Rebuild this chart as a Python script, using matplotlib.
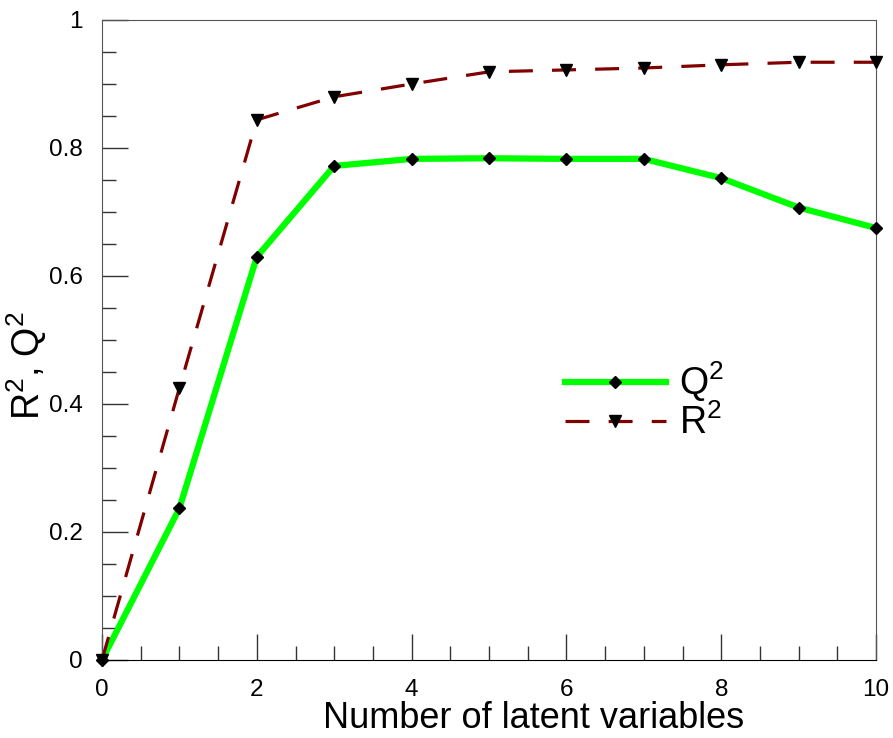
import matplotlib.pyplot as plt
import numpy as np
from matplotlib.ticker import MultipleLocator

plt.rcParams['font.family'] = ['Liberation Sans', 'DejaVu Sans']
plt.rcParams['mathtext.default'] = 'regular'

n_lv = [0, 1, 2, 3, 4, 5, 6, 7, 8, 9, 10]
q2 = [0.0, 0.237, 0.630, 0.772, 0.783, 0.784, 0.783, 0.783, 0.753, 0.707, 0.675]
r2 = [0.0, 0.425, 0.844, 0.880, 0.900, 0.919, 0.922, 0.925, 0.930, 0.934, 0.934]

fig = plt.figure(figsize=(8.93, 7.38), dpi=100)
ax = fig.add_axes([102/893, 78/738, 774/893, 640/738])

ax.plot(n_lv, q2, color='#00ff00', lw=4.5, marker='D', ms=6.5,
        mfc='black', mec='black', label='Q$^2$', clip_on=False, zorder=3)
ax.plot(n_lv, r2, color='#800000', lw=2.3, ls=(0, (7.5, 6)), marker='v', ms=9,
        mfc='black', mec='black', label='R$^2$', clip_on=False, zorder=3)

ax.set_xlim(0, 10)
ax.set_ylim(0, 1)
ax.xaxis.set_major_locator(MultipleLocator(2))
ax.xaxis.set_minor_locator(MultipleLocator(0.5))
ax.yaxis.set_major_locator(MultipleLocator(0.2))
ax.yaxis.set_minor_locator(MultipleLocator(0.05))
ax.xaxis.set_major_formatter(plt.FuncFormatter(lambda v, p: f'{v:g}'))
ax.yaxis.set_major_formatter(plt.FuncFormatter(lambda v, p: f'{v:g}'))

ax.tick_params(which='both', direction='in', labelsize=17.5, color='#333333', width=1)
ax.tick_params(which='major', length=19)
ax.tick_params(which='minor', length=10)
ax.tick_params(axis='x', pad=14)
ax.tick_params(axis='y', pad=14)

for s in ['left', 'top', 'right']:
    ax.spines[s].set_color('#555555')
ax.spines['bottom'].set_color('black')

ax.set_xlabel('Number of latent variables', fontsize=26)
ax.xaxis.set_label_coords(0.5575, -0.064)
ax.set_ylabel('R$^2$, Q$^2$', fontsize=27)
ax.yaxis.set_label_coords(-0.069, 0.46)

ax.legend(loc='center left', bbox_to_anchor=(0.598, 0.405), frameon=False,
          fontsize=27, handlelength=2.7, handletextpad=0.35, labelspacing=0.0,
          borderpad=0, borderaxespad=0)

fig.savefig('out.png', dpi=100)
